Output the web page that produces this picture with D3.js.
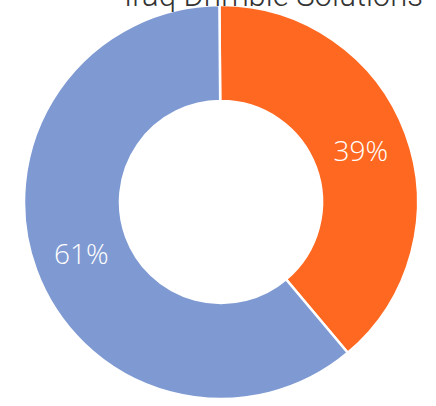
<!DOCTYPE html>
<html><head><meta charset="utf-8">
<script src="https://cdn.jsdelivr.net/npm/d3@7"></script>
<style>html,body{margin:0;padding:0;background:#fff;overflow:hidden}</style>
</head><body>
<svg id="c" width="436" height="406"></svg>
<script>
const title = "Iraq Drimble Solutions";
const categories = ["A", "B"];
const values = [39, 61];
const colors = ["#FF6820", "#7F9AD2"];

const svg = d3.select("#c");
const cx = 221, cy = 202, rOut = 197, rIn = 101;
const g = svg.append("g").attr("transform", `translate(${cx},${cy})`);
const pie = d3.pie().sort(null).value(d => d.v).startAngle(-0.008).endAngle(2*Math.PI - 0.008);
const data = pie(categories.map((c,i) => ({c, v: values[i]})));
const arc = d3.arc().innerRadius(rIn).outerRadius(rOut);
const color = d3.scaleOrdinal().domain(categories).range(colors);
g.selectAll("path").data(data).join("path")
  .attr("d", arc).attr("fill", d => color(d.data.c))
  .attr("stroke", "#fff").attr("stroke-width", 2.5);
const lab = d3.arc().innerRadius((rIn+rOut)/2).outerRadius((rIn+rOut)/2);
const total = d3.sum(values);
g.selectAll("text").data(data).join("text")
  .attr("transform", d => `translate(${lab.centroid(d)})`)
  .attr("text-anchor", "middle").attr("dy", "0.36em")
  .attr("fill", "#fff").attr("font-family", "Open Sans, sans-serif").attr("font-weight", 300)
  .attr("font-size", 28)
  .text(d => Math.round(d.data.v / total * 100) + "%");
const t = svg.append("text").attr("x", 124).attr("y", 6)
  .attr("font-family", "Roboto, sans-serif").attr("font-weight", 300).attr("font-size", 28)
  .attr("fill", "#333").text(title);
const w = t.node().getComputedTextLength();
t.attr("font-size", 28 * 299 / w);
</script>
</body></html>
